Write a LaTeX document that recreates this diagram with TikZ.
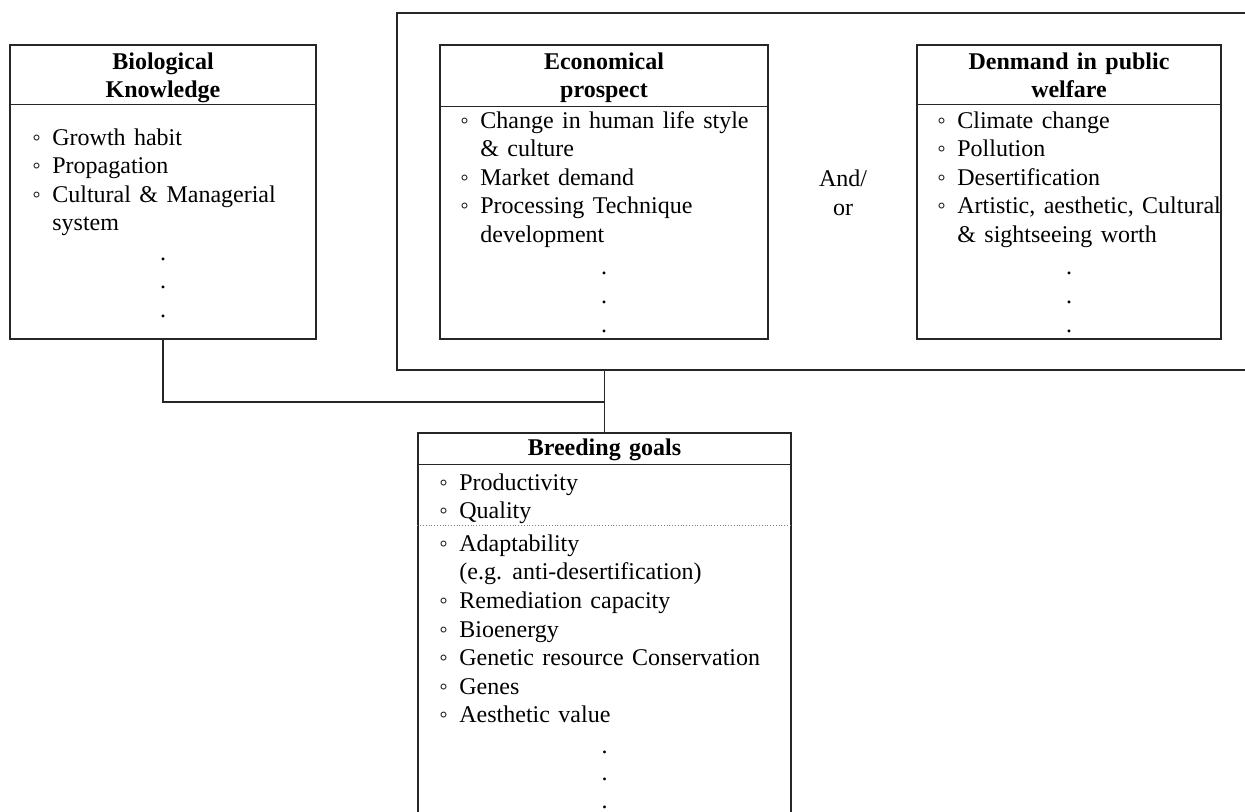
\documentclass[tikz,border=0pt]{standalone}
\usepackage{fontspec}
\setmainfont{Liberation Serif}[WordSpace=1.4]
\newcommand{\itm}{◦}
\begin{document}
\begin{tikzpicture}[x=0.5pt,y=-0.5pt,font=\fontsize{12}{14.3}\selectfont]
	\tikzset{box/.style={draw=black!85, line width=0.55pt, inner sep=0pt},
		rule/.style={draw=black!85, line width=0.55pt},
		head/.style={anchor=base, inner sep=0pt, font=\fontsize{12}{14}\selectfont\bfseries},
		items/.style={anchor=base west, inner sep=0pt},
		dotline/.style={anchor=base, inner sep=0pt}}
	\useasboundingbox (0,0) rectangle (1245,811);
	\clip (0,0) rectangle (1245,811);
	% frames
	\node[box, minimum width=440pt, minimum height=178.5pt] (outer) at (837,191.5) {};
	\node[box, minimum width=153pt, minimum height=147pt] (bio) at (163,192) {};
	\node[box, minimum width=164pt, minimum height=147pt] (econ) at (604,192) {};
	\node[box, minimum width=152pt, minimum height=147pt] (welf) at (1069,192) {};
	\node[box, minimum width=186.5pt, minimum height=198.5pt] (goals) at (604.5,631.5) {};
	% header rules
	\draw[rule] (bio.north west) ++(0,60) -- ++(306,0);
	\draw[rule] (econ.north west) ++(0,62) -- ++(328,0);
	\draw[rule] (welf.north west) ++(0,60) -- ++(304,0);
	\draw[rule] (goals.north west) ++(0,32) -- ++(373,0);
	\draw[densely dotted, line width=0.4pt, gray] (goals.north west) ++(0,93) -- ++(373,0);
	% headers
	\node[head] (biohead) at (163,69) {\begin{tabular}[t]{@{}c@{}}Biological\\Knowledge\end{tabular}};
	\node[head] (econhead) at (604,69) {\begin{tabular}[t]{@{}c@{}}Economical\\prospect\end{tabular}};
	\node[head] (welfhead) at (1069,69) {\begin{tabular}[t]{@{}c@{}}Denmand in public\\welfare\end{tabular}};
	\node[head] (goalshead) at (604.5,455) {Breeding goals};
	% lists
	\node[items] (bioitems) at (32,145) {\begin{tabular}[t]{@{}p{10pt}@{}l@{}}
		\itm & Growth habit\\
		\itm & Propagation\\
		\itm & Cultural \& Managerial\\
		& system
	\end{tabular}};
	\node[items] (econitems) at (460,128) {\begin{tabular}[t]{@{}p{10pt}@{}l@{}}
		\itm & Change in human life style\\
		& \& culture\\
		\itm & Market demand\\
		\itm & Processing Technique\\
		& development
	\end{tabular}};
	\node[items] (welfitems) at (937,128) {\begin{tabular}[t]{@{}p{10pt}@{}l@{}}
		\itm & Climate change\\
		\itm & Pollution\\
		\itm & Desertification\\
		\itm & Artistic, aesthetic, Cultural\\
		& \& sightseeing worth
	\end{tabular}};
	\node[items] (goalsitems) at (439,490) {\begin{tabular}[t]{@{}p{10pt}@{}l@{}}
		\itm & Productivity\\
		\itm & Quality\\[2pt]
		\itm & Adaptability\\
		& (e.g. anti-desertification)\\
		\itm & Remediation capacity\\
		\itm & Bioenergy\\
		\itm & Genetic resource Conservation\\
		\itm & Genes\\
		\itm & Aesthetic value
	\end{tabular}};
	\node (andor) at (843,195) {\begin{tabular}{@{}c@{}}And/\\or\end{tabular}};
	% continuation dots
	\foreach \y [count=\i] in {260,288,317} \node[dotline] (biodot\i) at (163,\y) {.};
	\foreach \y [count=\i] in {274,303,332} \node[dotline] (econdot\i) at (604,\y) {.};
	\foreach \y [count=\i] in {274,303,332} \node[dotline] (welfdot\i) at (1069,\y) {.};
	\foreach \y [count=\i] in {753,780,808} \node[dotline] (goalsdot\i) at (604.5,\y) {.};
	% connectors
	\coordinate (join) at (604.5,402);
	\draw[rule] (bio.south) |- (join);
	\draw[rule] (goals.north |- outer.south) -- (goals.north);
\end{tikzpicture}
\end{document}
